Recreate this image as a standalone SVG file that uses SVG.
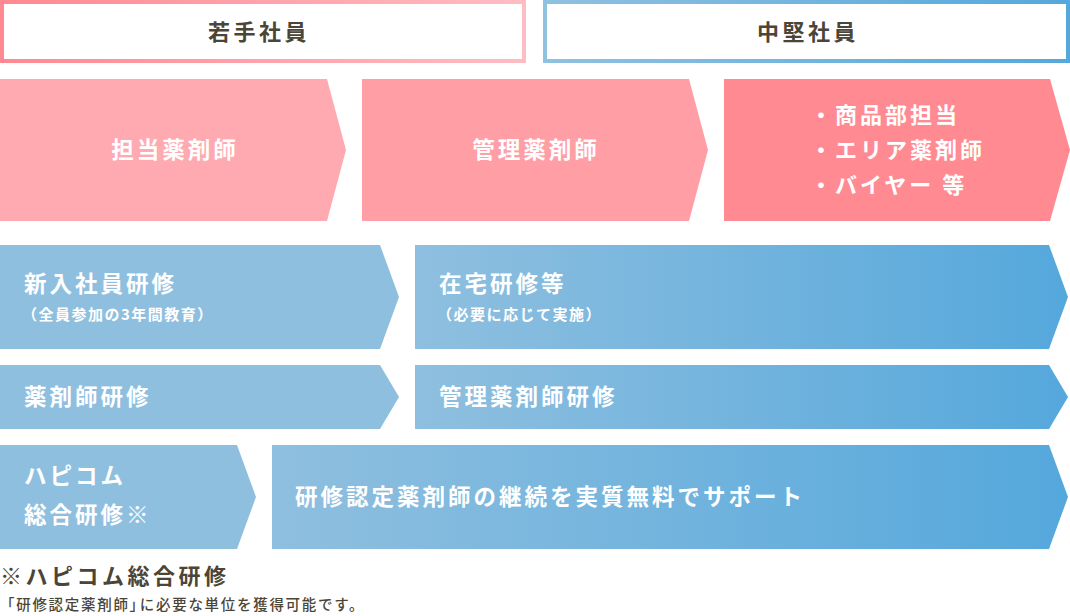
<svg xmlns="http://www.w3.org/2000/svg" width="1070" height="616" viewBox="0 0 1070 616">
<defs>
<linearGradient id="gPinkHead" x1="0" y1="0" x2="1" y2="0"><stop offset="0" stop-color="#ff8992"/><stop offset="1" stop-color="#ffbcc3"/></linearGradient>
<linearGradient id="gBlueHead" x1="0" y1="0" x2="1" y2="0"><stop offset="0" stop-color="#8fc1e1"/><stop offset="1" stop-color="#55a8dc"/></linearGradient>
<linearGradient id="gBlue" x1="0" y1="0" x2="1" y2="0"><stop offset="0" stop-color="#8fbfdf"/><stop offset="1" stop-color="#55a8dc"/></linearGradient>
<style>
text{font-family:"Noto Sans CJK JP","Noto Sans",sans-serif;font-weight:bold}
.head{fill:#4b4538;font-size:22px;letter-spacing:3.5px;text-anchor:middle}
.w{fill:#fff;font-size:22.5px;letter-spacing:3px}
.wc{fill:#fff;font-size:22.5px;letter-spacing:3px;text-anchor:middle}
.ws{fill:#fff;font-size:15px;letter-spacing:1.5px}
.wl{fill:#fff;font-size:22px;letter-spacing:3px}
.note{fill:#4b4538;font-size:22px;letter-spacing:3.5px}
.notes{fill:#4b4538;font-size:14.5px;letter-spacing:1.7px;font-weight:500}
</style>
</defs>
<g id="header-young">
<rect x="2" y="2" width="522" height="59" fill="#fff" stroke="url(#gPinkHead)" stroke-width="4"/>
<text class="head" x="259" y="40">若手社員</text>
</g>
<g id="header-mid">
<rect x="545" y="2" width="523" height="59" fill="#fff" stroke="url(#gBlueHead)" stroke-width="4"/>
<text class="head" x="808" y="40">中堅社員</text>
</g>
<g id="pink-1">
<polygon points="0,79 327,79 346,150 327,221 0,221" fill="#ffaab0"/>
<text class="wc" x="175" y="158">担当薬剤師</text>
</g>
<g id="pink-2">
<polygon points="362,79 689,79 708,150 689,221 362,221" fill="#ff9ea5"/>
<text class="wc" x="536" y="158">管理薬剤師</text>
</g>
<g id="pink-3">
<polygon points="724,79 1050,79 1070,150 1050,221 724,221" fill="#ff8a92"/>
<text class="wl" x="810" y="123">・商品部担当</text>
<text class="wl" x="810" y="158">・エリア薬剤師</text>
<text class="wl" x="810" y="193">・バイヤー 等</text>
</g>
<g id="blue-new">
<polygon points="0,245 380,245 399,297 380,349 0,349" fill="#8fbfdf"/>
<text class="w" x="24" y="292">新入社員研修</text>
<text class="ws" x="22" y="320">（全員参加の3年間教育）</text>
</g>
<g id="blue-home">
<polygon points="415,245 1049,245 1068,297 1049,349 415,349" fill="url(#gBlue)"/>
<text class="w" x="439" y="292">在宅研修等</text>
<text class="ws" x="437" y="320">（必要に応じて実施）</text>
</g>
<g id="blue-pharm">
<polygon points="0,365 380,365 399,397 380,429 0,429" fill="#8fbfdf"/>
<text class="w" x="24" y="405">薬剤師研修</text>
</g>
<g id="blue-mgr">
<polygon points="415,365 1049,365 1068,397 1049,429 415,429" fill="url(#gBlue)"/>
<text class="w" x="439" y="405">管理薬剤師研修</text>
</g>
<g id="blue-hapicom">
<polygon points="0,445 237,445 256,497 237,549 0,549" fill="#8fbfdf"/>
<text class="w" x="24" y="484">ハピコム</text>
<text class="w" x="24" y="523">総合研修※</text>
</g>
<g id="blue-support">
<polygon points="272,445 1049,445 1068,497 1049,549 272,549" fill="url(#gBlue)"/>
<text class="w" x="295" y="505">研修認定薬剤師の継続を実質無料でサポート</text>
</g>
<g id="footnote">
<text class="note" x="0" y="584">※ハピコム総合研修</text>
<text class="notes" x="0" y="610">「研修認定薬剤師」<tspan dx="-6">に必要な単位を獲得可能です。</tspan></text>
</g>
<g id="connectors"/>
</svg>
